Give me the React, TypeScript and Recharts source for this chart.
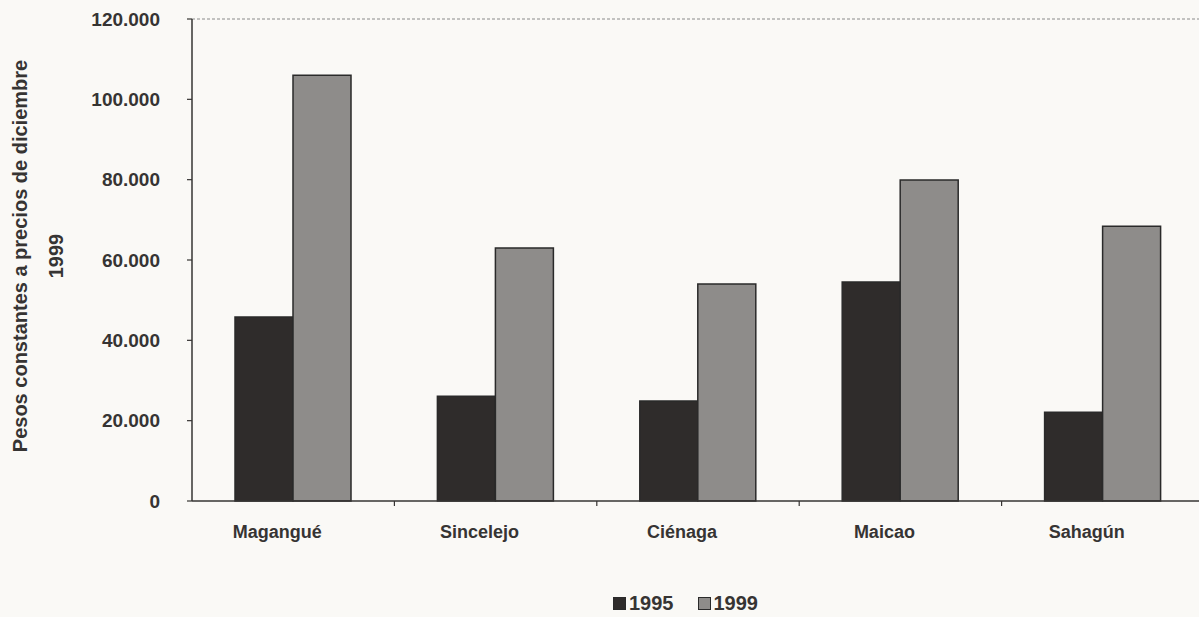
import React from "react";
import { BarChart, Bar, XAxis, YAxis, ReferenceLine, Legend } from "recharts";

const ciudades = ["Magangué", "Sincelejo", "Ciénaga", "Maicao", "Sahagún"];
const valores1995 = [45800, 26100, 24900, 54500, 22100];
const valores1999 = [106000, 63000, 54000, 79900, 68400];
const yTicks = [0, 20000, 40000, 60000, 80000, 100000, 120000];

const data = ciudades.map((c, i) => ({
  ciudad: c,
  y1995: valores1995[i],
  y1999: valores1999[i],
}));

const FONT = "'Liberation Sans', Arial, sans-serif";
const INK = "#363433";

// miles con punto: 120000 -> 120.000
const fmt = (v: number) => String(v).replace(/\B(?=(\d{3})+(?!\d))/g, ".");

function CityTick(props: any) {
  const { x, y, payload } = props;
  const half = payload && payload.offset ? payload.offset : 101.2;
  return (
    <g>
      <line x1={x + half} y1={y} x2={x + half} y2={y + 5} stroke={INK} strokeWidth={1.2} />
      <text x={x - 16} y={y + 37} textAnchor="middle" fill={INK} fontFamily={FONT} fontWeight="bold" fontSize={18}>
        {payload.value}
      </text>
    </g>
  );
}

function YTitle(props: any) {
  const vb = props.viewBox || { x: 0, y: 19, height: 482 };
  const cy = vb.y + vb.height / 2 - 4;
  const common = { fill: INK, fontFamily: FONT, fontWeight: "bold" as const, fontSize: 20, textAnchor: "middle" as const };
  return (
    <g>
      <text {...common} x={0} y={0} transform={`translate(${vb.x + 27}, ${cy}) rotate(-90)`}>
        Pesos constantes a precios de diciembre
      </text>
      <text {...common} x={0} y={0} transform={`translate(${vb.x + 63}, ${cy}) rotate(-90)`}>
        1999
      </text>
    </g>
  );
}

function LegendBox(props: any) {
  const items = [
    { label: "1995", color: "#2f2c2b" },
    { label: "1999", color: "#8e8c8a" },
  ];
  return (
    <div style={{ display: "flex", alignItems: "center", gap: 24, fontFamily: FONT, fontWeight: "bold", fontSize: 20, color: INK }}>
      {items.map((it) => (
        <div key={it.label} style={{ display: "flex", alignItems: "center", gap: 3 }}>
          <span style={{ width: 11, height: 11, background: it.color, border: "1px solid #2a2a2a", display: "inline-block" }} />
          <span>{it.label}</span>
        </div>
      ))}
    </div>
  );
}

export default function App() {
  return (
    <div style={{ position: "absolute", left: 0, top: 0, width: 1199, height: 617, overflow: "hidden", background: "#faf9f6" }}>
      <BarChart
        width={1212}
        height={617}
        data={data}
        margin={{ top: 19, right: 8, left: 0, bottom: 0 }}
        barGap={0}
        barSize={58}
      >
        <XAxis
          dataKey="ciudad"
          height={116}
          axisLine={{ stroke: INK, strokeWidth: 1.5 }}
          tickLine={false}
          tickSize={0}
          tickMargin={0}
          tick={<CityTick />}
          interval={0}
        />
        <YAxis
          width={192}
          domain={[0, 120000]}
          ticks={yTicks}
          interval={0}
          tickFormatter={fmt}
          axisLine={{ stroke: INK, strokeWidth: 1.5 }}
          tickLine={{ stroke: INK, strokeWidth: 1.2 }}
          tickSize={5}
          tickMargin={27}
          tick={{ fill: INK, fontFamily: FONT, fontWeight: "bold", fontSize: 19 }}
          label={<YTitle />}
        />
        <ReferenceLine y={120000} stroke="#8a8a8a" strokeDasharray="3 2" strokeWidth={1} />
        <Legend
          verticalAlign="middle"
          align="center"
          layout="horizontal"
          content={<LegendBox />}
          wrapperStyle={{ left: 613, top: 592, width: 200 }}
        />
        <Bar dataKey="y1995" name="1995" fill="#2f2c2b" stroke="#2a2a2a" strokeWidth={1.5} isAnimationActive={false} />
        <Bar dataKey="y1999" name="1999" fill="#8e8c8a" stroke="#2a2a2a" strokeWidth={1.5} isAnimationActive={false} />
      </BarChart>
    </div>
  );
}
